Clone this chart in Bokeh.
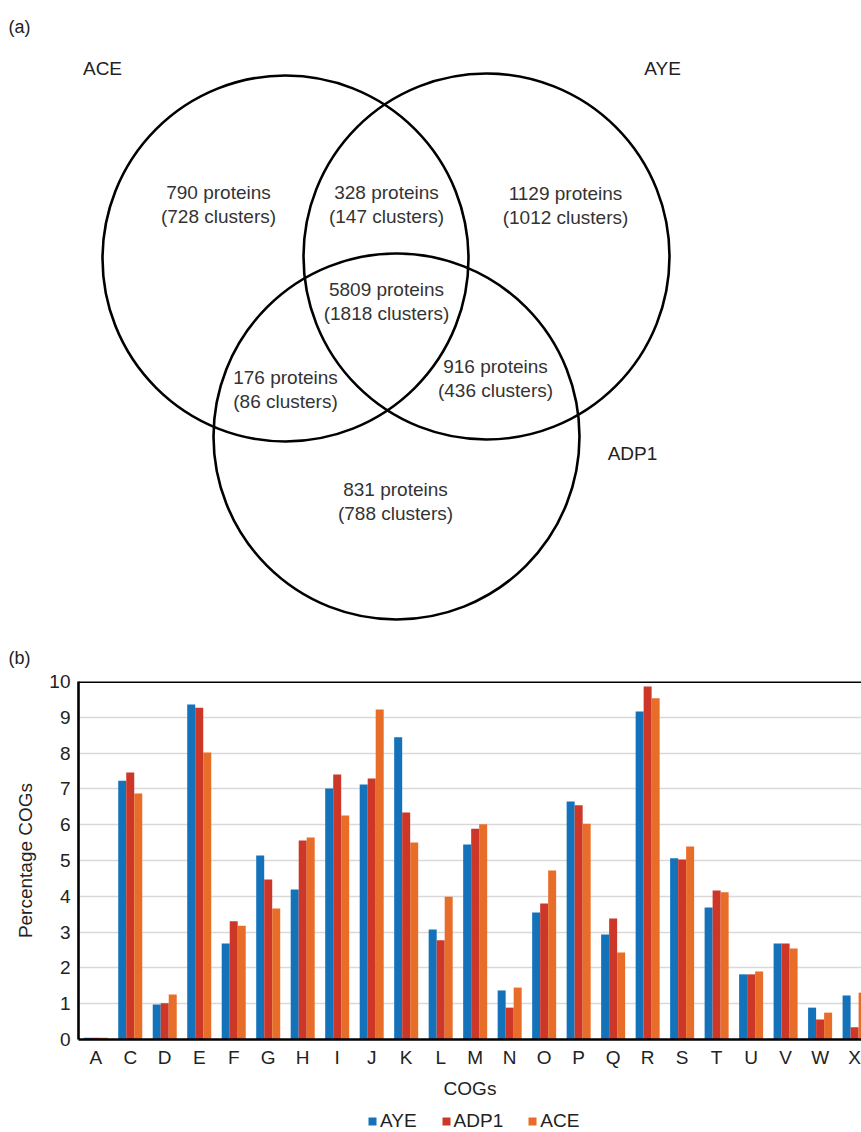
from bokeh.plotting import figure
from bokeh.models import Range1d, FixedTicker, Span, Legend, LegendItem, ColumnDataSource
from bokeh.embed import file_html
from bokeh.resources import INLINE
from bokeh.core.properties import value
from bokeh.transform import dodge

# ---------------- data ----------------
# Venn diagram (a)
set_names = ["ACE", "AYE", "ADP1"]
region_proteins = [790, 328, 1129, 5809, 176, 916, 831]
region_clusters = [728, 147, 1012, 1818, 86, 436, 788]
# regions: ACE only, ACE&AYE, AYE only, all three, ACE&ADP1, AYE&ADP1, ADP1 only

# COG bar chart (b)
series_names = ["AYE", "ADP1", "ACE"]
cogs = ["A", "C", "D", "E", "F", "G", "H", "I", "J", "K", "L", "M",
        "N", "O", "P", "Q", "R", "S", "T", "U", "V", "W", "X"]
aye = [0.05, 7.23, 0.98, 9.36, 2.68, 5.14, 4.19, 7.01, 7.12, 8.44, 3.07, 5.45,
       1.37, 3.55, 6.65, 2.93, 9.16, 5.06, 3.69, 1.82, 2.68, 0.89, 1.23]
adp1 = [0.05, 7.46, 1.01, 9.27, 3.30, 4.47, 5.56, 7.40, 7.29, 6.34, 2.77, 5.89,
        0.89, 3.80, 6.54, 3.38, 9.86, 5.03, 4.16, 1.82, 2.68, 0.56, 0.34]
ace = [0.05, 6.87, 1.26, 8.02, 3.18, 3.66, 5.64, 6.26, 9.22, 5.50, 3.99, 6.01,
       1.45, 4.72, 6.03, 2.43, 9.53, 5.39, 4.11, 1.90, 2.54, 0.75, 1.31]

# ---------------- layout / style ----------------
FONT = "Liberation Sans"
TXT = "#333333"
COLORS = ["#1372BA", "#CD3728", "#E86D28"]

# Venn figure uses page-pixel coordinates (y downward)
W = 861
H1 = 670
p1 = figure(width=W, height=H1, x_range=Range1d(0, W), y_range=Range1d(H1, 0),
            output_backend="svg", toolbar_location=None, min_border=0,
            x_axis_location=None, y_axis_location=None)
p1.grid.visible = False
p1.outline_line_color = None

circ_x = [285, 486, 396]
circ_y = [258, 256, 436]
circ_r = 183
p1.circle(x=circ_x, y=circ_y, radius=circ_r, fill_color=None,
          line_color="black", line_width=2.6)

reg_x = [218, 386, 565, 386, 285, 495, 395]
reg_y = [204, 204, 205, 301, 389, 378, 501]
p1.text(x=reg_x, y=[y - 12 for y in reg_y],
        text=[f"{n} proteins" for n in region_proteins],
        text_align="center", text_baseline="middle",
        text_font=value(FONT), text_font_size="19px", text_color=TXT)
p1.text(x=reg_x, y=[y + 12 for y in reg_y],
        text=[f"({n} clusters)" for n in region_clusters],
        text_align="center", text_baseline="middle",
        text_font=value(FONT), text_font_size="19px", text_color=TXT)

set_lx = [102, 662, 632]
set_ly = [68, 68, 453]
p1.text(x=set_lx, y=set_ly, text=set_names, text_align="center", text_baseline="middle",
        text_font=value(FONT), text_font_size="19px", text_color="#222222")

p1.text(x=[8, 8], y=[26, 657], text=["(a)", "(b)"], text_align="left", text_baseline="middle",
        text_font=value(FONT), text_font_size="18px", text_color="#222222")

# Bar chart
H2 = 432
xpos = list(range(len(cogs)))
src = ColumnDataSource(dict(x=xpos, aye=aye, adp1=adp1, ace=ace))
bw = 0.232

p2 = figure(width=W, height=H2, x_range=Range1d(-0.5, len(cogs) - 0.8), y_range=Range1d(0, 10),
            output_backend="svg", toolbar_location=None,
            min_border_left=78, min_border_right=0, min_border_top=11,
            min_border_bottom=H2 - 11 - 358)
p2.outline_line_color = None
p2.xgrid.visible = False
p2.ygrid.grid_line_color = "#D9D9D9"
p2.ygrid.grid_line_width = 1.6

p2.vbar(x=dodge("x", -bw, range=p2.x_range), top="aye", width=bw, source=src,
        fill_color=COLORS[0], line_color=None)
p2.vbar(x="x", top="adp1", width=bw, source=src,
        fill_color=COLORS[1], line_color=None)
p2.vbar(x=dodge("x", bw, range=p2.x_range), top="ace", width=bw, source=src,
        fill_color=COLORS[2], line_color=None)

p2.add_layout(Span(location=10, dimension="width", line_color="black", line_width=3))

p2.yaxis.ticker = FixedTicker(ticks=list(range(0, 11)))
p2.xaxis.ticker = FixedTicker(ticks=xpos)
p2.xaxis.major_label_overrides = {i: c for i, c in zip(xpos, cogs)}

for ax in (p2.xaxis, p2.yaxis):
    ax.axis_line_color = "black"
    ax.axis_line_width = 2.6
    ax.major_tick_line_color = None
    ax.minor_tick_line_color = None
    ax.major_tick_out = 0
    ax.major_tick_in = 0
    ax.major_label_text_font = FONT
    ax.major_label_text_font_size = "19px"
    ax.major_label_text_color = "#222222"
    ax.axis_label_text_font = FONT
    ax.axis_label_text_font_size = "19px"
    ax.axis_label_text_font_style = "normal"
    ax.axis_label_text_color = "#222222"

p2.yaxis.axis_label = "Percentage COGs"
p2.yaxis.major_label_standoff = 8
p2.yaxis.axis_label_standoff = 10
p2.xaxis.axis_label = "COGs"
p2.xaxis.major_label_standoff = 7
p2.xaxis.axis_label_standoff = 7

# Legend strip (separate small figure below the chart); its swatch renderers
# hold one point that lies outside the strip's visible range.
H3 = 1132 - H1 - H2
p3 = figure(width=W, height=H3, x_range=Range1d(0, 1), y_range=Range1d(0, 1),
            output_backend="svg", toolbar_location=None, min_border=0,
            x_axis_location=None, y_axis_location=None)
p3.grid.visible = False
p3.outline_line_color = None
items = []
for name, col in zip(series_names, COLORS):
    r = p3.vbar(x=[5], top=[5], bottom=[4], width=0.1, fill_color=col, line_color=None)
    items.append(LegendItem(label=name, renderers=[r]))
legend = Legend(items=items, orientation="horizontal", location=(367, 0),
                border_line_color=None, background_fill_alpha=0,
                margin=0, padding=0, spacing=24, glyph_width=10, glyph_height=10,
                label_standoff=3, label_text_font=FONT, label_text_font_size="19px",
                label_text_color="#222222")
p3.add_layout(legend)

open("out.html", "w").write(file_html([p1, p2, p3], INLINE))
